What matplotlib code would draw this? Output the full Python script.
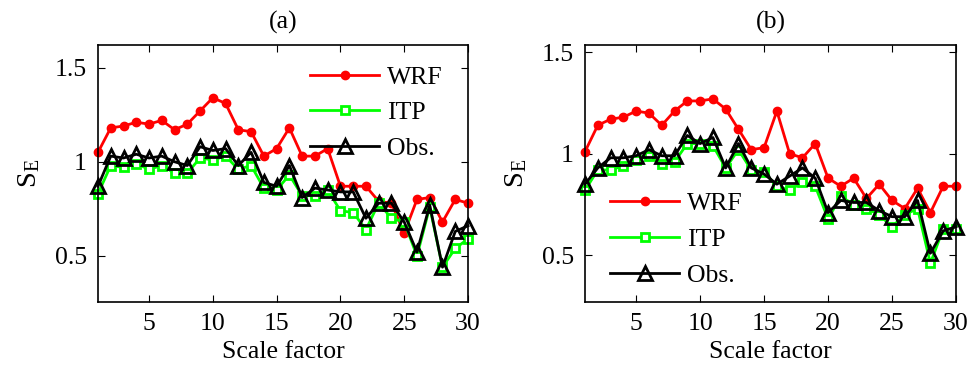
import numpy as np
import matplotlib
matplotlib.use("Agg")
import matplotlib.pyplot as plt

# --------------------------------------------------
# Data (scale factor 1..30)
# --------------------------------------------------

scale = np.arange(1, 31)

# panel (a)
wrf_a = [1.05, 1.18, 1.19, 1.21, 1.20, 1.22, 1.17, 1.20, 1.27, 1.34,
         1.31, 1.17, 1.16, 1.03, 1.07, 1.18, 1.03, 1.03, 1.07, 0.87,
         0.87, 0.87, 0.79, 0.78, 0.62, 0.80, 0.81, 0.68, 0.80, 0.78]
itp_a = [0.83, 0.98, 0.97, 0.99, 0.96, 0.98, 0.94, 0.94, 1.02, 1.01,
         1.03, 0.96, 0.98, 0.86, 0.85, 0.93, 0.82, 0.82, 0.85, 0.74,
         0.73, 0.64, 0.78, 0.70, 0.68, 0.50, 0.76, 0.44, 0.54, 0.59]
obs_a = [0.87, 1.03, 1.02, 1.04, 1.02, 1.03, 1.00, 0.98, 1.08, 1.06,
         1.07, 0.98, 1.05, 0.89, 0.87, 0.98, 0.81, 0.86, 0.85, 0.84,
         0.84, 0.70, 0.78, 0.78, 0.68, 0.52, 0.77, 0.44, 0.63, 0.66]

# panel (b)
wrf_b = [1.01, 1.14, 1.17, 1.18, 1.21, 1.20, 1.14, 1.21, 1.26, 1.26,
         1.27, 1.22, 1.12, 1.02, 1.03, 1.21, 1.00, 0.98, 1.05, 0.88,
         0.84, 0.88, 0.78, 0.85, 0.77, 0.73, 0.83, 0.71, 0.84, 0.84]
itp_b = [0.82, 0.92, 0.92, 0.94, 0.97, 0.99, 0.95, 0.96, 1.05, 1.05,
         1.04, 0.93, 1.02, 0.92, 0.91, 0.84, 0.82, 0.86, 0.84, 0.68,
         0.79, 0.75, 0.73, 0.70, 0.64, 0.70, 0.73, 0.46, 0.63, 0.63]
obs_b = [0.85, 0.93, 0.98, 0.98, 0.99, 1.02, 0.99, 0.99, 1.09, 1.05,
         1.08, 0.93, 1.05, 0.93, 0.90, 0.85, 0.89, 0.93, 0.88, 0.71,
         0.77, 0.76, 0.76, 0.72, 0.69, 0.69, 0.77, 0.51, 0.62, 0.64]

panels = [
    ("(a)", wrf_a, itp_a, obs_a, (0.255, 1.62), "upper left", (0.545, 0.96)),
    ("(b)", wrf_b, itp_b, obs_b, (0.27, 1.535), "lower left", (0.04, 0.02)),
]

# --------------------------------------------------
# Figure
# --------------------------------------------------

plt.rcParams["font.family"] = ["Liberation Serif", "DejaVu Serif"]
plt.rcParams["mathtext.fontset"] = "custom"
plt.rcParams["mathtext.rm"] = "Liberation Serif"
fs = 18.5

fig = plt.figure(figsize=(9.73, 3.74), dpi=100)
axes_pos = [[0.1007, 0.1925, 0.3803, 0.687], [0.6012, 0.1925, 0.3813, 0.687]]

for pos, (title, wrf, itp, obs, ylim, loc, anchor) in zip(axes_pos, panels):
    ax = fig.add_axes(pos)
    ax.plot(scale, wrf, color="red", lw=2, marker="o", ms=6,
            mfc="red", mec="red", label="WRF", clip_on=False)
    ax.plot(scale, itp, color=(0, 1, 0), lw=2, marker="s", ms=6,
            mfc="white", mec=(0, 1, 0), mew=2, label="ITP", clip_on=False)
    ax.plot(scale, obs, color="black", lw=2, marker="^", ms=10,
            mfc="none", mec="black", mew=2, label="Obs.", clip_on=False)

    ax.set_xlim(1, 30)
    ax.set_ylim(*ylim)
    ax.set_xticks([5, 10, 15, 20, 25, 30])
    ax.set_yticks([0.5, 1, 1.5])
    ax.set_yticklabels(["0.5", "1", "1.5"])
    ax.tick_params(direction="in", top=True, right=True, length=5,
                   width=0.8, labelsize=fs, pad=8)
    for s in ax.spines.values():
        s.set_linewidth(1.2)

    ax.set_title(title, fontsize=fs, pad=12)
    ax.set_xlabel("Scale factor", fontsize=fs, labelpad=4)
    ax.set_ylabel(r"$\mathregular{S_E}$", fontsize=fs + 2, labelpad=9)
    ax.legend(loc=loc, bbox_to_anchor=anchor, frameon=False, fontsize=fs,
              handlelength=2.7, handletextpad=0.3, labelspacing=0.5,
              borderaxespad=0)

fig.savefig("out.png", dpi=100)
